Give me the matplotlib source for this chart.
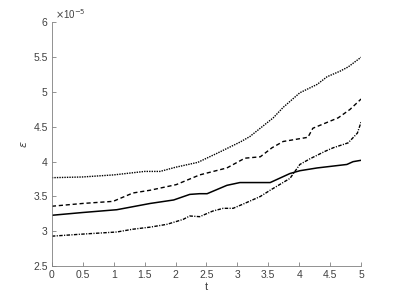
import matplotlib
matplotlib.use("Agg")
import matplotlib.pyplot as plt
import numpy as np

# curves (values in units of 1e-5)
t_dot = [0, 0.49, 1.0, 1.5, 1.75, 2.0, 2.36, 2.67, 3.04, 3.2, 3.58, 3.74, 4.01, 4.29, 4.45, 4.66, 4.79, 5.0]
e_dot = [3.77, 3.78, 3.81, 3.86, 3.86, 3.92, 3.99, 4.12, 4.28, 4.36, 4.63, 4.78, 4.99, 5.11, 5.22, 5.30, 5.36, 5.50]

t_dash = [0, 0.5, 0.99, 1.31, 1.59, 2.01, 2.39, 2.83, 3.12, 3.37, 3.56, 3.74, 4.14, 4.22, 4.63, 4.82, 5.0]
e_dash = [3.36, 3.40, 3.43, 3.55, 3.59, 3.67, 3.81, 3.91, 4.05, 4.07, 4.20, 4.29, 4.35, 4.48, 4.63, 4.75, 4.90]

t_solid = [0, 0.5, 1.05, 1.59, 1.97, 2.23, 2.39, 2.51, 2.83, 3.04, 3.48, 3.53, 3.85, 4.01, 4.29, 4.77, 4.87, 5.0]
e_solid = [3.23, 3.27, 3.31, 3.40, 3.45, 3.53, 3.54, 3.54, 3.66, 3.70, 3.70, 3.70, 3.83, 3.87, 3.91, 3.96, 4.00, 4.02]

t_dashdot = [0, 0.5, 1.05, 1.31, 1.59, 1.86, 2.12, 2.23, 2.39, 2.6, 2.77, 2.93, 3.09, 3.37, 3.53, 3.85, 4.01, 4.17, 4.42, 4.55, 4.79, 4.94, 5.0]
e_dashdot = [2.93, 2.96, 2.99, 3.03, 3.06, 3.10, 3.17, 3.22, 3.21, 3.29, 3.33, 3.33, 3.39, 3.50, 3.59, 3.76, 3.96, 4.04, 4.15, 4.20, 4.27, 4.41, 4.57]

xticks = [0, 0.5, 1, 1.5, 2, 2.5, 3, 3.5, 4, 4.5, 5]
yticks = [2.5, 3, 3.5, 4, 4.5, 5, 5.5, 6]

plt.rcParams['font.family'] = ['Liberation Sans', 'DejaVu Sans']
fig = plt.figure(figsize=(3.99, 2.99), dpi=100)
ax = fig.add_axes([0.13, 0.11, 0.775, 0.815])

scale = 1e-5
ax.plot(t_dot, np.array(e_dot) * scale, 'k:', lw=1.0, dashes=(1, 0.8))
ax.plot(t_dash, np.array(e_dash) * scale, 'k--', lw=1.0, dashes=(3, 2))
ax.plot(t_solid, np.array(e_solid) * scale, 'k-', lw=1.1)
ax.plot(t_dashdot, np.array(e_dashdot) * scale, 'k-.', lw=1.0, dashes=(2.5, 1, 0.8, 1))

ax.set_xlim(0, 5)
ax.set_ylim(2.5e-5, 6e-5)
ax.set_xticks(xticks)
ax.set_xticklabels([f'{v:g}' for v in xticks])
ax.set_yticks(np.array(yticks) * scale)
ax.set_yticklabels([f'{v:g}' for v in yticks])

grey = '#808080'
for side in ['top', 'right']:
    ax.spines[side].set_visible(False)
for side in ['left', 'bottom']:
    ax.spines[side].set_color(grey)
    ax.spines[side].set_linewidth(0.6)
ax.tick_params(direction='in', length=3, width=0.6, color=grey,
               labelsize=7.5, labelcolor='#404040', pad=3)

ax.text(0.01, 1.005, r'$\times$10$^{-5}$', transform=ax.transAxes,
        fontsize=7, color='#404040', ha='left', va='bottom')
ax.set_xlabel('t', fontsize=8, color='#404040', labelpad=1)
ax.set_ylabel(r'$\epsilon$', fontsize=8, color='#404040', labelpad=3)

fig.savefig('out.png', dpi=100)
